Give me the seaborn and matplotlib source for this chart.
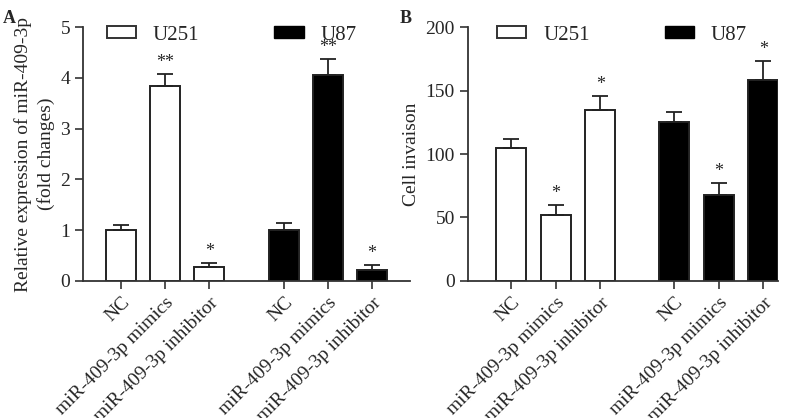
import numpy as np
import pandas as pd
import matplotlib
matplotlib.use('Agg')
import matplotlib.pyplot as plt
import seaborn as sns
from matplotlib.patches import Patch

sns.set_style('ticks')
plt.rcParams['font.family'] = ['Liberation Serif', 'DejaVu Serif']

treatments = ['NC', 'miR-409-3p mimics', 'miR-409-3p inhibitor']
cell_lines = ['U251', 'U87']

# panel A: relative expression (fold changes)
expr_u251 = [1.0, 3.85, 0.28]
expr_u251_err = [0.10, 0.22, 0.08]
expr_u87 = [1.0, 4.05, 0.21]
expr_u87_err = [0.15, 0.33, 0.11]
expr_stars = ['', '**', '*', '', '**', '*']

# panel B: cell invasion
inv_u251 = [105, 52, 135]
inv_u251_err = [7, 7.5, 10.5]
inv_u87 = [125, 68, 158]
inv_u87_err = [8, 9.5, 15]
inv_stars = ['', '*', '*', '', '*', '*']


def draw_panel(ax, v1, e1, v2, e2, stars, gap, ymax, ystep, ylabel, xlim, leg_x):
    pos = [0, 1, 2, 2 + gap, 3 + gap, 4 + gap]
    df = pd.DataFrame({
        'pos': pos,
        'value': v1 + v2,
        'err': e1 + e2,
        'line': [cell_lines[0]] * 3 + [cell_lines[1]] * 3,
    })
    sns.barplot(data=df, x='pos', y='value', hue='line', native_scale=True,
                palette={'U251': 'white', 'U87': 'black'}, width=0.68,
                edgecolor='#222222', linewidth=1.4, dodge=False, legend=False, ax=ax)
    ax.errorbar(df['pos'], df['value'], yerr=[np.zeros(len(df)), df['err']],
                fmt='none', ecolor='#222222', elinewidth=1.3, capsize=6, capthick=1.3)
    for x, v, e, s in zip(df['pos'], df['value'], df['err'], stars):
        if s:
            ax.text(x, v + e + ymax * 0.012, s, ha='center', va='bottom', fontsize=13)
    ax.set_xlim(*xlim)
    ax.set_ylim(0, ymax)
    ax.set_yticks(np.arange(0, ymax + ystep / 2, ystep))
    ax.set_xticks(pos)
    ax.set_xticklabels(treatments * 2, rotation=45, ha='right', rotation_mode='anchor',
                       fontsize=14)
    ax.tick_params(axis='y', labelsize=14, length=6, width=1.2, color='#333333')
    ax.tick_params(axis='x', length=6, width=1.2, color='#333333')
    ax.set_xlabel('')
    ax.set_ylabel(ylabel, fontsize=14, linespacing=1.3)
    for sp in ['left', 'bottom']:
        ax.spines[sp].set_linewidth(1.3)
        ax.spines[sp].set_color('#333333')
    sns.despine(ax=ax)
    handles = [Patch(facecolor='white', edgecolor='#333333', linewidth=1.4, label='U251'),
               Patch(facecolor='black', edgecolor='black', label='U87')]
    ax.legend(handles=handles, ncol=2, frameon=False, loc='center left',
              bbox_to_anchor=(leg_x, 0.968), borderaxespad=0, borderpad=0,
              fontsize=15, handlelength=1.4, handleheight=0.5,
              columnspacing=3.6, handletextpad=0.8)


fig = plt.figure(figsize=(8, 4.18), dpi=100)
axA = fig.add_axes([0.104, 0.328, 0.409, 0.607])
axB = fig.add_axes([0.585, 0.328, 0.388, 0.607])

draw_panel(axA, expr_u251, expr_u251_err, expr_u87, expr_u87_err, expr_stars,
           1.7, 5, 1, 'Relative expression of miR-409-3p\n(fold changes)', (-0.86, 6.57), 0.073)
draw_panel(axB, inv_u251, inv_u251_err, inv_u87, inv_u87_err, inv_stars,
           1.66, 200, 50, 'Cell invaison', (-0.97, 6.0), 0.094)

fig.text(0.004, 0.975, 'A', fontsize=13, fontweight='bold', va='top')
fig.text(0.5, 0.975, 'B', fontsize=13, fontweight='bold', va='top')

fig.savefig('out.png', dpi=100)
